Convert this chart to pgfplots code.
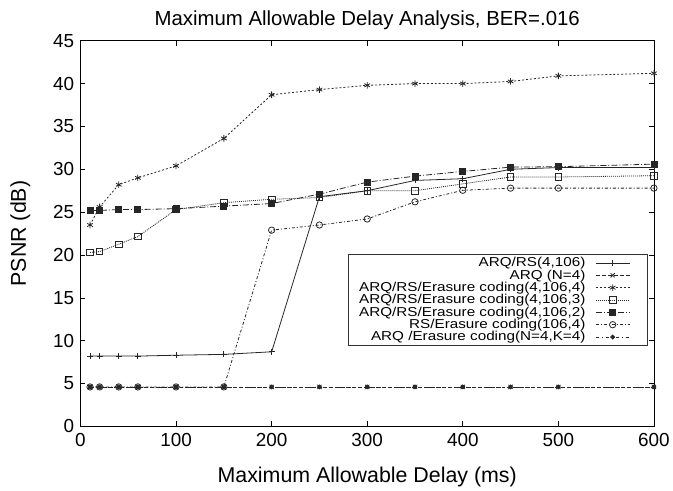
\documentclass[border=0pt]{standalone}
\usepackage{fontspec}
\setmainfont{Liberation Sans}
\newfontfamily\legfont[FakeStretch=1.18]{Liberation Sans}
\usepackage{pgfplots}
\pgfplotsset{compat=1.18}
\usetikzlibrary{calc}
\begin{document}
\begin{tikzpicture}
\begin{axis}[
  scale only axis,
  width=577pt, height=388pt,
  xmin=0, xmax=600, ymin=0, ymax=45,
  xtick={0,100,...,600}, ytick={0,5,...,45},
  tick align=inside, major tick length=5pt,
  tick style={black, line width=0.6pt},
  axis line style={line width=0.8pt},
  ticklabel style={font=\fontsize{19}{19}\selectfont},
  yticklabel style={xshift=-3pt},
  xticklabel style={yshift=-3pt},
  /pgf/number format/assume math mode=true,
  title={Maximum Allowable Delay Analysis, BER=.016},
  title style={font=\fontsize{20.5}{20.5}\selectfont, yshift=2pt},
  xlabel={Maximum Allowable Delay (ms)},
  ylabel={PSNR (dB)},
  xlabel shift=14pt, ylabel shift=16pt,
  label style={font=\fontsize{21.5}{21.5}\selectfont},
  legend style={at={(0.988,0.446)}, anchor=north east,
    font=\legfont\fontsize{13}{12}\selectfont, draw=black!80,
    row sep=1.5pt, nodes={inner ysep=0pt},
    inner xsep=9pt, inner ysep=3pt},
  legend cell align=right, legend plot pos=right,
  legend image code/.code={\path (0pt,0pt);
    \draw[mark repeat=2,mark phase=2]
    plot coordinates {(8pt,0pt)(25pt,0pt)(42pt,0pt)};
    \path (50pt,0pt);},
  every axis plot/.append style={black!85, line width=0.8pt, mark options={solid}},
]
\addplot[mark=+, mark size=3pt] coordinates {
 (10,8.2)(20,8.2)(40,8.2)(60,8.2)(100,8.3)(150,8.4)(200,8.7)(250,26.8)
 (300,27.5)(350,28.7)(400,28.9)(450,30.0)(500,30.2)(600,30.2)};
\addplot[mark=x, mark size=3pt, dash pattern=on 4pt off 2pt] coordinates {
 (10,4.6)(20,4.6)(40,4.6)(60,4.6)(100,4.6)(150,4.6)(200,4.6)(250,4.6)
 (300,4.6)(350,4.6)(400,4.6)(450,4.6)(500,4.6)(600,4.6)};
\addplot[mark=asterisk, mark size=3.3pt, dash pattern=on 2pt off 2pt] coordinates {
 (10,23.5)(20,25.6)(40,28.2)(60,29.0)(100,30.4)(150,33.6)(200,38.7)(250,39.3)
 (300,39.8)(350,40.0)(400,40.0)(450,40.25)(500,40.9)(600,41.2)};
\addplot[mark=square, mark size=3.3pt, dash pattern=on 1pt off 1pt] coordinates {
 (10,20.3)(20,20.4)(40,21.25)(60,22.15)(100,25.3)(150,26.1)(200,26.5)(250,26.7)
 (300,27.5)(350,27.5)(400,28.3)(450,29.1)(500,29.1)(600,29.25)};
\addplot[mark=square*, mark size=3pt, dash pattern=on 6pt off 2pt on 1pt off 2pt] coordinates {
 (10,25.2)(20,25.2)(40,25.3)(60,25.3)(100,25.4)(150,25.7)(200,26.0)(250,27.1)
 (300,28.5)(350,29.2)(400,29.75)(450,30.25)(500,30.3)(600,30.6)};
\addplot[mark=o, mark size=3.2pt, dash pattern=on 3pt off 2pt on 1pt off 2pt] coordinates {
 (10,4.6)(20,4.6)(40,4.6)(60,4.6)(100,4.6)(150,4.6)(200,22.9)(250,23.5)
 (300,24.2)(350,26.2)(400,27.55)(450,27.8)(500,27.8)(600,27.8)};
\addplot[mark=*, mark size=2pt, dash pattern=on 3pt off 3pt on 1pt off 3pt] coordinates {
 (10,4.6)(20,4.6)(40,4.6)(60,4.6)(100,4.6)(150,4.6)(200,4.6)(250,4.6)
 (300,4.6)(350,4.6)(400,4.6)(450,4.6)(500,4.6)(600,4.6)};
\legend{{ARQ/RS(4,106)}, {ARQ (N=4)}, {ARQ/RS/Erasure coding(4,106,4)},
  {ARQ/RS/Erasure coding(4,106,3)}, {ARQ/RS/Erasure coding(4,106,2)},
  {RS/Erasure coding(106,4)}, {ARQ /Erasure coding(N=4,K=4)}}
\end{axis}
\path ($(current axis.south west)+(-81pt,-59.7pt)$) rectangle ($(current axis.north east)+(15pt,41pt)$);
\end{tikzpicture}
\end{document}
